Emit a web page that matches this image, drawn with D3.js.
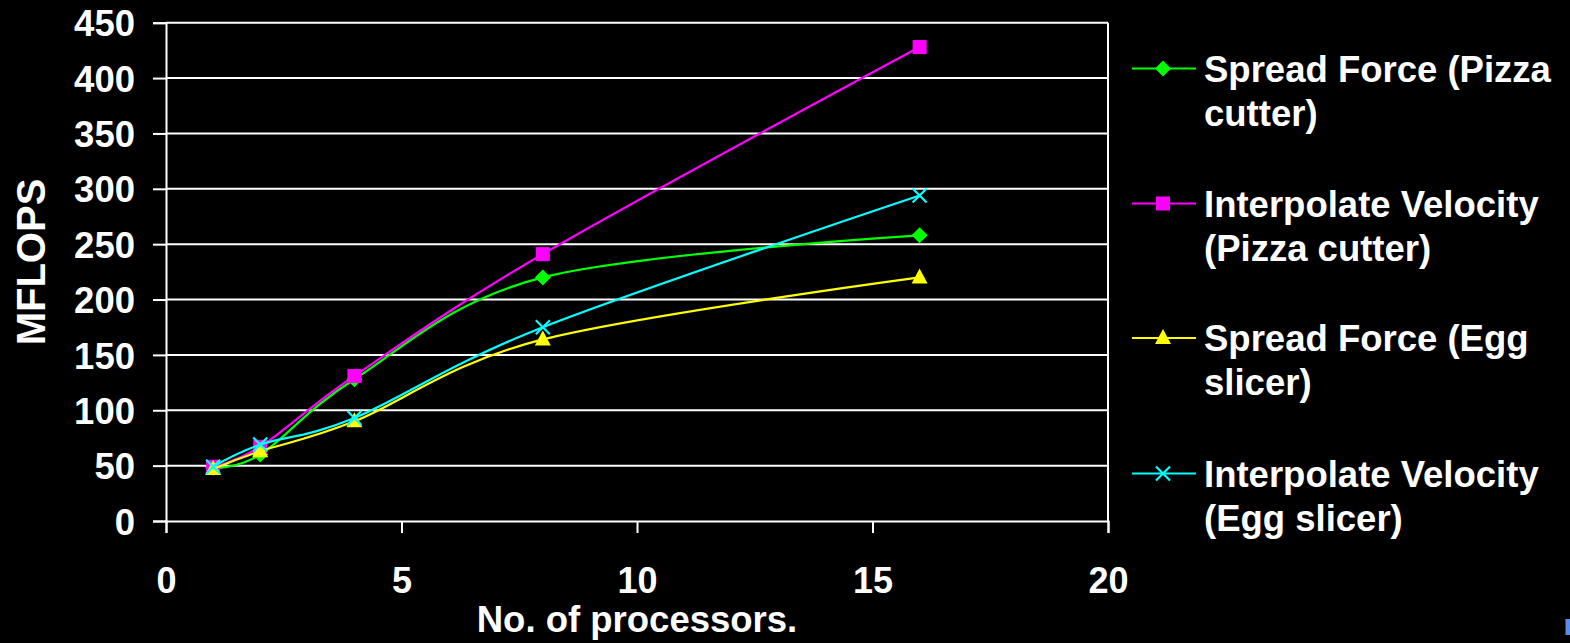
<!DOCTYPE html>
<html>
<head>
<meta charset="utf-8">
<script src="https://cdn.jsdelivr.net/npm/d3@7/dist/d3.min.js"></script>
<style>
  html, body { margin: 0; padding: 0; background: #000; }
  svg { display: block; }
  text { font-family: "Liberation Sans", Arial, sans-serif; font-weight: bold; fill: #fff; }
</style>
</head>
<body>
<svg id="chart" width="1570" height="643"></svg>
<script>
// ---- data ----
const processors = [1, 2, 4, 8, 16];
const spreadForcePizza = [48, 60, 128, 220, 258];
const interpVelocityPizza = [49, 67, 131, 241, 428];
const spreadForceEgg = [47, 63, 90, 164, 220];
const interpVelocityEgg = [49, 69, 93, 175, 294];
const seriesNames = [
  ["Spread Force (Pizza", "cutter)"],
  ["Interpolate Velocity", "(Pizza cutter)"],
  ["Spread Force (Egg", "slicer)"],
  ["Interpolate Velocity", "(Egg slicer)"]
];
const xTicks = [0, 5, 10, 15, 20];
const yTicks = [0, 50, 100, 150, 200, 250, 300, 350, 400, 450];
const xTitle = "No. of processors.";
const yTitle = "MFLOPS";

// ---- styles ----
const colors = ["#00ff00", "#ff00ff", "#ffff00", "#00ffff"];
const markers = ["diamond", "square", "triangle", "x"];
const seriesValues = [spreadForcePizza, interpVelocityPizza, spreadForceEgg, interpVelocityEgg];

const svg = d3.select("#chart");
svg.append("rect").attr("width", 1570).attr("height", 643).attr("fill", "#000");

const plotL = 166, plotR = 1108, plotT = 22.7, plotB = 521;
const x = d3.scaleLinear().domain([0, 20]).range([plotL, plotR]);
const y = d3.scaleLinear().domain([0, 450]).range([plotB, plotT]);

// gridlines
svg.append("g").selectAll("line").data(yTicks.filter(d => d > 0)).join("line")
  .attr("x1", plotL).attr("x2", plotR)
  .attr("y1", d => y(d)).attr("y2", d => y(d))
  .attr("stroke", "#fff").attr("stroke-width", 2);

// right border
svg.append("line").attr("x1", plotR).attr("x2", plotR).attr("y1", plotT).attr("y2", plotB)
  .attr("stroke", "#fff").attr("stroke-width", 2);

// y axis
const yAxis = d3.axisLeft(y).tickValues(yTicks).tickSize(13).tickPadding(18).tickFormat(d3.format("d"));
const gy = svg.append("g").attr("transform", `translate(${plotL},0)`).call(yAxis);
gy.select(".domain").attr("stroke", "#fff").attr("stroke-width", 2);
gy.selectAll(".tick line").attr("stroke", "#fff").attr("stroke-width", 2);
gy.selectAll(".tick text").style("font-size", "36.5px").attr("fill", "#fff").attr("dy", "0.36em");

// x axis
const xAxis = d3.axisBottom(x).tickValues(xTicks).tickSize(12).tickPadding(34).tickFormat(d3.format("d"));
const gx = svg.append("g").attr("transform", `translate(0,${plotB})`).call(xAxis);
gx.select(".domain").attr("stroke", "#fff").attr("stroke-width", 2);
gx.selectAll(".tick line").attr("stroke", "#fff").attr("stroke-width", 2);
gx.selectAll(".tick text").style("font-size", "36px").attr("fill", "#fff");

// titles
svg.append("text").attr("x", (plotL + plotR) / 2).attr("y", 632)
  .attr("text-anchor", "middle").style("font-size", "36.5px").text(xTitle);
svg.append("text").attr("transform", "translate(45,262) rotate(-90)")
  .attr("text-anchor", "middle").style("font-size", "40px").text(yTitle);

// marker drawer
function drawMarker(g, type, cx, cy, color) {
  if (type === "diamond") {
    g.append("path").attr("d", `M${cx},${cy-8}L${cx+8},${cy}L${cx},${cy+8}L${cx-8},${cy}Z`).attr("fill", color);
  } else if (type === "square") {
    g.append("rect").attr("x", cx - 7).attr("y", cy - 7).attr("width", 14).attr("height", 14).attr("fill", color);
  } else if (type === "triangle") {
    g.append("path").attr("d", `M${cx},${cy-9}L${cx+8},${cy+6}L${cx-8},${cy+6}Z`).attr("fill", color);
  } else {
    g.append("path").attr("d", `M${cx-7},${cy-7}L${cx+7},${cy+7}M${cx-7},${cy+7}L${cx+7},${cy-7}`)
      .attr("stroke", color).attr("stroke-width", 2.2).attr("fill", "none");
  }
}

// series
const lineGen = d3.line().x(d => x(d[0])).y(d => y(d[1])).curve(d3.curveCardinal.tension(0));
seriesValues.forEach((vals, i) => {
  const pts = processors.map((p, k) => [p, vals[k]]);
  const g = svg.append("g");
  g.append("path").attr("d", lineGen(pts)).attr("fill", "none")
    .attr("stroke", colors[i]).attr("stroke-width", 2.2);
  pts.forEach(p => drawMarker(g, markers[i], x(p[0]), y(p[1]), colors[i]));
});

// legend
const legendY = [68.5, 203.5, 338, 473.5];
seriesNames.forEach((lines, i) => {
  const g = svg.append("g");
  const ly = legendY[i];
  g.append("line").attr("x1", 1132).attr("x2", 1196).attr("y1", ly).attr("y2", ly)
    .attr("stroke", colors[i]).attr("stroke-width", 2.2);
  drawMarker(g, markers[i], 1163, ly, colors[i]);
  lines.forEach((t, j) => {
    g.append("text").attr("x", 1204).attr("y", ly + j * 44).attr("dy", "0.36em")
      .style("font-size", "36.5px").text(t);
  });
});

// small blue edge artifact
svg.append("rect").attr("x", 1565.5).attr("y", 619).attr("width", 5).attr("height", 16).attr("fill", "#5a8cf0");
</script>
</body>
</html>
